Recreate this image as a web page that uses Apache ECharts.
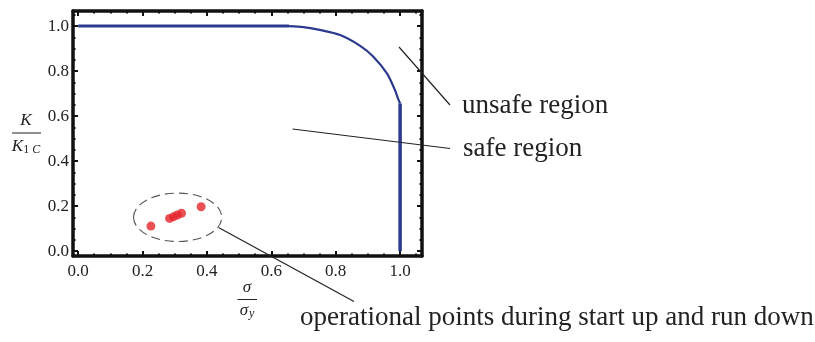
<!DOCTYPE html>
<html>
<head>
<meta charset="utf-8">
<script src="https://cdn.jsdelivr.net/npm/echarts@6/dist/echarts.min.js"></script>
<style>html,body{margin:0;padding:0;background:#fff;}#c{width:815px;height:342px;}</style>
</head>
<body>
<div id="c"></div>
<script>
// ---- data ----
var xMajorTicks = [0, 0.2, 0.4, 0.6, 0.8, 1.0];
var yMajorTicks = [0, 0.2, 0.4, 0.6, 0.8, 1.0];
var xMinorTicks = [0.05,0.1,0.15,0.25,0.3,0.35,0.45,0.5,0.55,0.65,0.7,0.75,0.85,0.9,0.95,1.05];
var yMinorTicks = [0.05,0.1,0.15,0.25,0.3,0.35,0.45,0.5,0.55,0.65,0.7,0.75,0.85,0.9,0.95,1.05];
// failure assessment curve
var flatX = [0, 0.655];
var flatY = [1, 1];
var arcX = [0.655, 0.70, 0.75, 0.814, 0.876, 0.917, 0.959, 0.984, 0.993, 1.0];
var arcY = [1.0, 0.995, 0.983, 0.960, 0.912, 0.864, 0.790, 0.716, 0.680, 0.656];
var vertX = [1.0, 1.0];
var vertY = [0.656, 0.0];
// operational points
var opX = [0.226, 0.284, 0.296, 0.308, 0.321, 0.382];
var opY = [0.111, 0.145, 0.152, 0.160, 0.168, 0.197];
// axis extents
var xMin = -0.016, xMax = 1.068;
var yMin = -0.022, yMax = 1.067;

function pairs(xs, ys){ return xs.map(function(x,i){ return [x, ys[i]]; }); }

var FONT = 'Liberation Serif';
var BLUE = '#2b3a8f';
var gridRect = {left: 73, right: 393, top: 11, bottom: 86};

function mkX(grid, pos, major, labels){
  return {
    type: 'value', gridIndex: grid, position: pos, min: xMin, max: xMax,
    axisLine: {show: major, onZero: false, lineStyle: {color: '#111', width: 3.5}},
    axisTick: {show: true, inside: true, length: major ? 5 : 2.5,
      customValues: major ? xMajorTicks : xMinorTicks,
      lineStyle: {color: '#111', width: 2}},
    axisLabel: {show: labels, customValues: xMajorTicks, margin: 7,
      formatter: function(v){ return v.toFixed(1); },
      fontFamily: FONT, fontSize: 17, color: '#222'},
    splitLine: {show: false}
  };
}
function mkY(grid, pos, major, labels){
  return {
    type: 'value', gridIndex: grid, position: pos, min: yMin, max: yMax,
    axisLine: {show: major, onZero: false, lineStyle: {color: '#111', width: 3.5}},
    axisTick: {show: true, inside: true, length: major ? 5 : 2.5,
      customValues: major ? yMajorTicks : yMinorTicks,
      lineStyle: {color: '#111', width: 2}},
    axisLabel: {show: labels, customValues: yMajorTicks, margin: 4,
      formatter: function(v){ return v.toFixed(1); },
      fontFamily: FONT, fontSize: 17, color: '#222'},
    splitLine: {show: false}
  };
}

var chart = echarts.init(document.getElementById('c'), null, {renderer: 'canvas'});
chart.setOption({
  animation: false,
  backgroundColor: '#fff',
  grid: [Object.assign({}, gridRect), Object.assign({}, gridRect)],
  xAxis: [mkX(0,'bottom',true,true), mkX(0,'top',true,false), mkX(1,'bottom',false,false), mkX(1,'top',false,false)],
  yAxis: [mkY(0,'left',true,true), mkY(0,'right',true,false), mkY(1,'left',false,false), mkY(1,'right',false,false)],
  series: [
    {type: 'line', xAxisIndex: 0, yAxisIndex: 0, data: pairs(flatX, flatY), showSymbol: false,
      lineStyle: {color: BLUE, width: 3}, z: 3},
    {type: 'line', xAxisIndex: 0, yAxisIndex: 0, data: pairs(arcX, arcY), showSymbol: false, smooth: 0.3,
      lineStyle: {color: BLUE, width: 2.2}, z: 3},
    {type: 'line', xAxisIndex: 0, yAxisIndex: 0, data: pairs(vertX, vertY), showSymbol: false,
      lineStyle: {color: BLUE, width: 3.5}, z: 3},
    {type: 'scatter', xAxisIndex: 0, yAxisIndex: 0, data: pairs(opX, opY), symbolSize: 9,
      itemStyle: {color: '#e3262b'}, z: 4}
  ]
});

// annotation ellipse around operational points (data coords)
var ell = {cx: 0.309, cy: 0.150, rx: 0.137, ry: 0.1076};
var c0 = chart.convertToPixel({gridIndex: 0}, [ell.cx, ell.cy]);
var cX = chart.convertToPixel({gridIndex: 0}, [ell.cx + ell.rx, ell.cy]);
var cY = chart.convertToPixel({gridIndex: 0}, [ell.cx, ell.cy + ell.ry]);

var annFont = 27;
chart.setOption({
  graphic: [
    {type: 'ellipse', shape: {cx: c0[0], cy: c0[1], rx: Math.abs(cX[0]-c0[0]), ry: Math.abs(c0[1]-cY[1])},
      style: {fill: 'none', stroke: '#555', lineWidth: 1.1, lineDash: [9, 5]}, z: 10},
    // leader lines
    {type: 'line', shape: {x1: 399, y1: 47, x2: 450, y2: 105}, style: {stroke: '#222', lineWidth: 1.2}, z: 10},
    {type: 'line', shape: {x1: 292.5, y1: 129, x2: 450, y2: 148.5}, style: {stroke: '#222', lineWidth: 1.2}, z: 10},
    {type: 'line', shape: {x1: 218.5, y1: 227.5, x2: 354, y2: 301.5}, style: {stroke: '#222', lineWidth: 1.2}, z: 10},
    // annotation texts
    {type: 'text', x: 462, y: 106, style: {text: 'unsafe region', font: annFont + 'px "Liberation Serif"', fill: '#222', verticalAlign: 'middle', align: 'left'}, z: 10},
    {type: 'text', x: 463, y: 149, style: {text: 'safe region', font: annFont + 'px "Liberation Serif"', fill: '#222', verticalAlign: 'middle', align: 'left'}, z: 10},
    {type: 'text', x: 300, y: 318, style: {text: 'operational points during start up and run down', font: annFont + 'px "Liberation Serif"', fill: '#222', verticalAlign: 'middle', align: 'left'}, z: 10},
    // y axis label K / K_1C
    {type: 'text', x: 26, y: 121, style: {text: 'K', font: 'italic 17px "Liberation Serif"', fill: '#222', align: 'center', verticalAlign: 'middle'}},
    {type: 'line', shape: {x1: 12, y1: 133, x2: 41, y2: 133}, style: {stroke: '#222', lineWidth: 1}},
    {type: 'text', x: 26, y: 147, style: {text: '{k|K}{s|1 }{c|C}', align: 'center', verticalAlign: 'middle',
      rich: {k: {font: 'italic 17px "Liberation Serif"', fill: '#222'},
             s: {font: '12px "Liberation Serif"', fill: '#222', padding: [6,0,0,0]},
             c: {font: 'italic 12px "Liberation Serif"', fill: '#222', padding: [6,0,0,0]}}}},
    // x axis label sigma / sigma_y
    {type: 'text', x: 247, y: 288, style: {text: 'σ', font: 'italic 17px "Liberation Serif"', fill: '#222', align: 'center', verticalAlign: 'middle'}},
    {type: 'line', shape: {x1: 237.5, y1: 299.5, x2: 257, y2: 299.5}, style: {stroke: '#222', lineWidth: 1}},
    {type: 'text', x: 247, y: 311, style: {text: '{k|σ}{s|y}', align: 'center', verticalAlign: 'middle',
      rich: {k: {font: 'italic 17px "Liberation Serif"', fill: '#222'},
             s: {font: 'italic 12px "Liberation Serif"', fill: '#222', padding: [6,0,0,1]}}}}
  ]
});
</script>
</body>
</html>
